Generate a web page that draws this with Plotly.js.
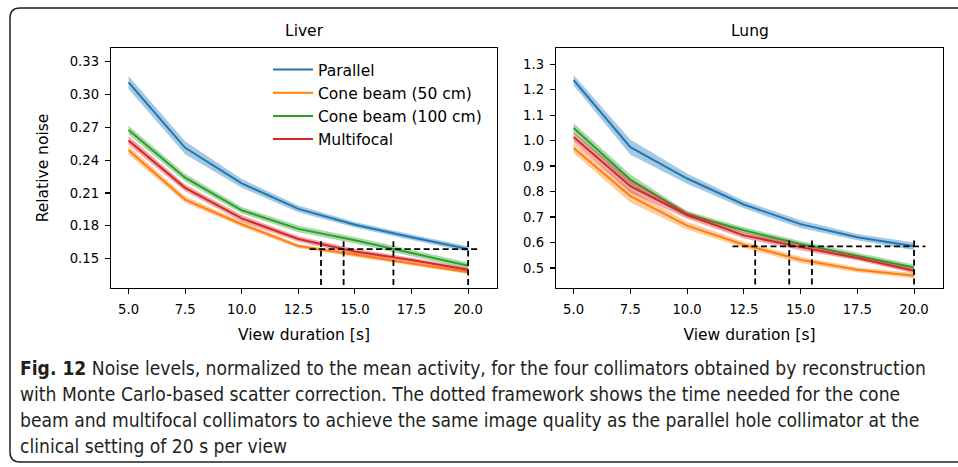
<!DOCTYPE html>
<html>
<head>
<meta charset="utf-8">
<script src="https://cdn.plot.ly/plotly-3.0.1.min.js"></script>
<style>
html,body{margin:0;padding:0;background:#fff;}
#chart{width:958px;height:467px;}
</style>
</head>
<body>
<div id="chart"></div>
<script>
// ---------------- data ----------------
const viewDuration = [5, 7.5, 10, 12.5, 15, 17.5, 20];
const seriesNames = ['Parallel', 'Cone beam (50 cm)', 'Cone beam (100 cm)', 'Multifocal'];
const seriesColors = ['#1f77b4', '#ff7f0e', '#2ca02c', '#d62728'];
const bandColors = ['rgba(31,119,180,0.4)', 'rgba(255,127,14,0.4)', 'rgba(44,160,44,0.4)', 'rgba(214,39,40,0.4)'];

// Liver: mean relative noise
const liverParallel    = [0.311, 0.2513, 0.2188, 0.1955, 0.1810, 0.1695, 0.1588];
const liverCone50      = [0.249, 0.2040, 0.1815, 0.1615, 0.1535, 0.1455, 0.1375];
const liverCone100     = [0.2675, 0.2240, 0.1942, 0.1772, 0.1669, 0.1555, 0.1435];
const liverMultifocal  = [0.258, 0.2147, 0.1868, 0.1680, 0.1565, 0.1488, 0.1398];
// Liver: band half-widths
const liverParallelErr   = [0.006, 0.006, 0.004, 0.003, 0.0025, 0.0025, 0.0025];
const liverCone50Err     = [0.004, 0.003, 0.0025, 0.002, 0.002, 0.0015, 0.0015];
const liverCone100Err    = [0.004, 0.0035, 0.003, 0.003, 0.003, 0.003, 0.003];
const liverMultifocalErr = [0.004, 0.003, 0.003, 0.0025, 0.0025, 0.002, 0.002];

// Lung: mean relative noise
const lungParallel    = [1.237, 0.974, 0.851, 0.749, 0.672, 0.621, 0.585];
const lungCone50      = [0.971, 0.782, 0.666, 0.591, 0.532, 0.493, 0.470];
const lungCone100     = [1.049, 0.847, 0.711, 0.648, 0.594, 0.548, 0.502];
const lungMultifocal  = [1.014, 0.821, 0.708, 0.628, 0.582, 0.539, 0.489];
// Lung: band half-widths
const lungParallelErr   = [0.02, 0.03, 0.02, 0.015, 0.015, 0.012, 0.015];
const lungCone50Err     = [0.02, 0.025, 0.015, 0.012, 0.012, 0.01, 0.01];
const lungCone100Err    = [0.02, 0.02, 0.012, 0.012, 0.012, 0.012, 0.012];
const lungMultifocalErr = [0.02, 0.025, 0.015, 0.012, 0.012, 0.01, 0.01];

// Dotted framework (equal-quality reference)
const liverRefLevel = 0.1588;
const liverRefSpan = [13.0, 20.5];
const liverMatchTimes = [13.5, 14.5, 16.7, 20.0];
const liverMatchYSpan = [0.126, 0.1659];
const lungRefLevel = 0.585;
const lungRefSpan = [12.0, 20.5];
const lungMatchTimes = [13.0, 14.5, 15.5, 20.0];
const lungMatchYSpan = [0.435, 0.614];

// Tick labels
const xTicks = [5, 7.5, 10, 12.5, 15, 17.5, 20];
const liverYTicks = [0.15, 0.18, 0.21, 0.24, 0.27, 0.30, 0.33];
const lungYTicks = [0.5, 0.6, 0.7, 0.8, 0.9, 1.0, 1.1, 1.2, 1.3];

const panelTitles = ['Liver', 'Lung'];
const xTitle = 'View duration [s]';
const yTitle = 'Relative noise';
const captionBold = 'Fig. 12';
const captionLines = [
  ' Noise levels, normalized to the mean activity, for the four collimators obtained by reconstruction',
  'with Monte Carlo-based scatter correction. The dotted framework shows the time needed for the cone',
  'beam and multifocal collimators to achieve the same image quality as the parallel hole collimator at the',
  'clinical setting of 20 s per view'
];

// ---------------- build ----------------
const liverSeries = [liverParallel, liverCone50, liverCone100, liverMultifocal];
const liverErrs = [liverParallelErr, liverCone50Err, liverCone100Err, liverMultifocalErr];
const lungSeries = [lungParallel, lungCone50, lungCone100, lungMultifocal];
const lungErrs = [lungParallelErr, lungCone50Err, lungCone100Err, lungMultifocalErr];

const traces = [];
function addPanel(series, errs, xa, ya, showLegend) {
  series.forEach((ys, i) => {
    const upper = ys.map((v, k) => v + errs[i][k]);
    const lower = ys.map((v, k) => v - errs[i][k]);
    traces.push({
      x: viewDuration.concat(viewDuration.slice().reverse()),
      y: upper.concat(lower.slice().reverse()),
      xaxis: xa, yaxis: ya, type: 'scatter', mode: 'lines',
      fill: 'toself', fillcolor: bandColors[i],
      line: {width: 0, color: bandColors[i]},
      hoverinfo: 'skip', showlegend: false, legendgroup: 'g' + i
    });
    traces.push({
      x: viewDuration, y: ys, xaxis: xa, yaxis: ya, type: 'scatter', mode: 'lines',
      name: seriesNames[i], line: {color: seriesColors[i], width: 2},
      showlegend: showLegend, legendgroup: 'g' + i
    });
  });
}
function addFramework(level, span, times, ySpan, xa, ya) {
  const dash = {color: '#000', width: 1.8, dash: '6px,3.5px'};
  traces.push({x: span, y: [level, level], xaxis: xa, yaxis: ya, type: 'scatter', mode: 'lines',
    line: dash, showlegend: false, hoverinfo: 'skip'});
  times.forEach(t => {
    traces.push({x: [t, t], y: ySpan, xaxis: xa, yaxis: ya, type: 'scatter', mode: 'lines',
      line: dash, showlegend: false, hoverinfo: 'skip'});
  });
}
addPanel(liverSeries, liverErrs, 'x', 'y', true);
addFramework(liverRefLevel, liverRefSpan, liverMatchTimes, liverMatchYSpan, 'x', 'y');
addPanel(lungSeries, lungErrs, 'x2', 'y2', false);
addFramework(lungRefLevel, lungRefSpan, lungMatchTimes, lungMatchYSpan, 'x2', 'y2');

const W = 958, H = 467;
const tickFont = {family: 'DejaVu Sans', size: 13.2, color: '#000'};
const labelFont = {family: 'DejaVu Sans', size: 15.5, color: '#000'};
function xAxis(domain, anchor) {
  return {domain: domain, anchor: anchor, range: [4.225, 21.275], tickvals: xTicks,
    ticktext: xTicks.map(v => v.toFixed(1)), ticks: 'outside', ticklen: 5, tickwidth: 1.1,
    tickcolor: '#000', showline: true, linecolor: '#000', linewidth: 1.3, mirror: true,
    showgrid: false, zeroline: false, tickfont: tickFont, ticklabelstandoff: 4,
    title: {text: xTitle, font: labelFont, standoff: 13}};
}
function yAxis(domain, anchor, range, ticks, dec, title) {
  const a = {domain: domain, anchor: anchor, range: range, tickvals: ticks,
    ticktext: ticks.map(v => v.toFixed(dec)), ticks: 'outside', ticklen: 5, tickwidth: 1.1,
    tickcolor: '#000', showline: true, linecolor: '#000', linewidth: 1.3, mirror: true,
    showgrid: false, zeroline: false, tickfont: tickFont, ticklabelstandoff: 3};
  if (title) a.title = {text: title, font: labelFont, standoff: 17};
  return a;
}
const yDom = [1 - 288 / H, 1 - 48 / H];
const layout = {
  width: W, height: H,
  margin: {l: 0, r: 0, t: 0, b: 0},
  paper_bgcolor: '#fff', plot_bgcolor: '#fff',
  showlegend: true,
  legend: {x: 268 / W, y: 1 - 53 / H, xanchor: 'left', yanchor: 'top',
    font: labelFont, bgcolor: 'rgba(0,0,0,0)', borderwidth: 0,
    traceorder: 'grouped', tracegroupgap: 0, itemwidth: 40},
  xaxis: xAxis([111 / W, 497 / W], 'y'),
  yaxis: yAxis(yDom, 'x', [0.1232, 0.3425], liverYTicks, 2, yTitle),
  xaxis2: xAxis([556 / W, 943 / W], 'y2'),
  yaxis2: yAxis(yDom, 'x2', [0.4216, 1.363], lungYTicks, 1, null),
  annotations: [
    {text: panelTitles[0], xref: 'paper', yref: 'paper', x: 304 / W, y: 1 - 31.5 / H,
      showarrow: false, font: labelFont, xanchor: 'center', yanchor: 'middle'},
    {text: panelTitles[1], xref: 'paper', yref: 'paper', x: 750 / W, y: 1 - 31.5 / H,
      showarrow: false, font: labelFont, xanchor: 'center', yanchor: 'middle'}
  ],
  shapes: [
    {type: 'path', xref: 'paper', yref: 'paper',
      path: 'M 1.01,' + (1 - 8 / H) + ' L ' + (20 / W) + ',' + (1 - 8 / H) +
        ' Q ' + (10 / W) + ',' + (1 - 8 / H) + ' ' + (10 / W) + ',' + (1 - 18 / H) +
        ' L ' + (10 / W) + ',' + (1 - 452 / H) +
        ' Q ' + (10 / W) + ',' + (1 - 462 / H) + ' ' + (20 / W) + ',' + (1 - 462 / H) +
        ' L 1.01,' + (1 - 462 / H),
      line: {color: '#231f20', width: 1.5}}
  ]
};
const capFont = {family: 'Liberation Sans Narrow, DejaVu Sans Condensed, Liberation Sans', size: 19.1, color: '#231f20'};
const capY = [368, 394, 420, 446];
captionLines.forEach((line, i) => {
  const txt = i === 0 ? '<b>' + captionBold + '</b>' + line : line;
  layout.annotations.push({text: txt, xref: 'paper', yref: 'paper', x: 18 / W, y: 1 - capY[i] / H,
    xanchor: 'left', yanchor: 'middle', showarrow: false, font: capFont, align: 'left'});
});

Plotly.newPlot('chart', traces, layout, {displayModeBar: false, staticPlot: true});
</script>
</body>
</html>
